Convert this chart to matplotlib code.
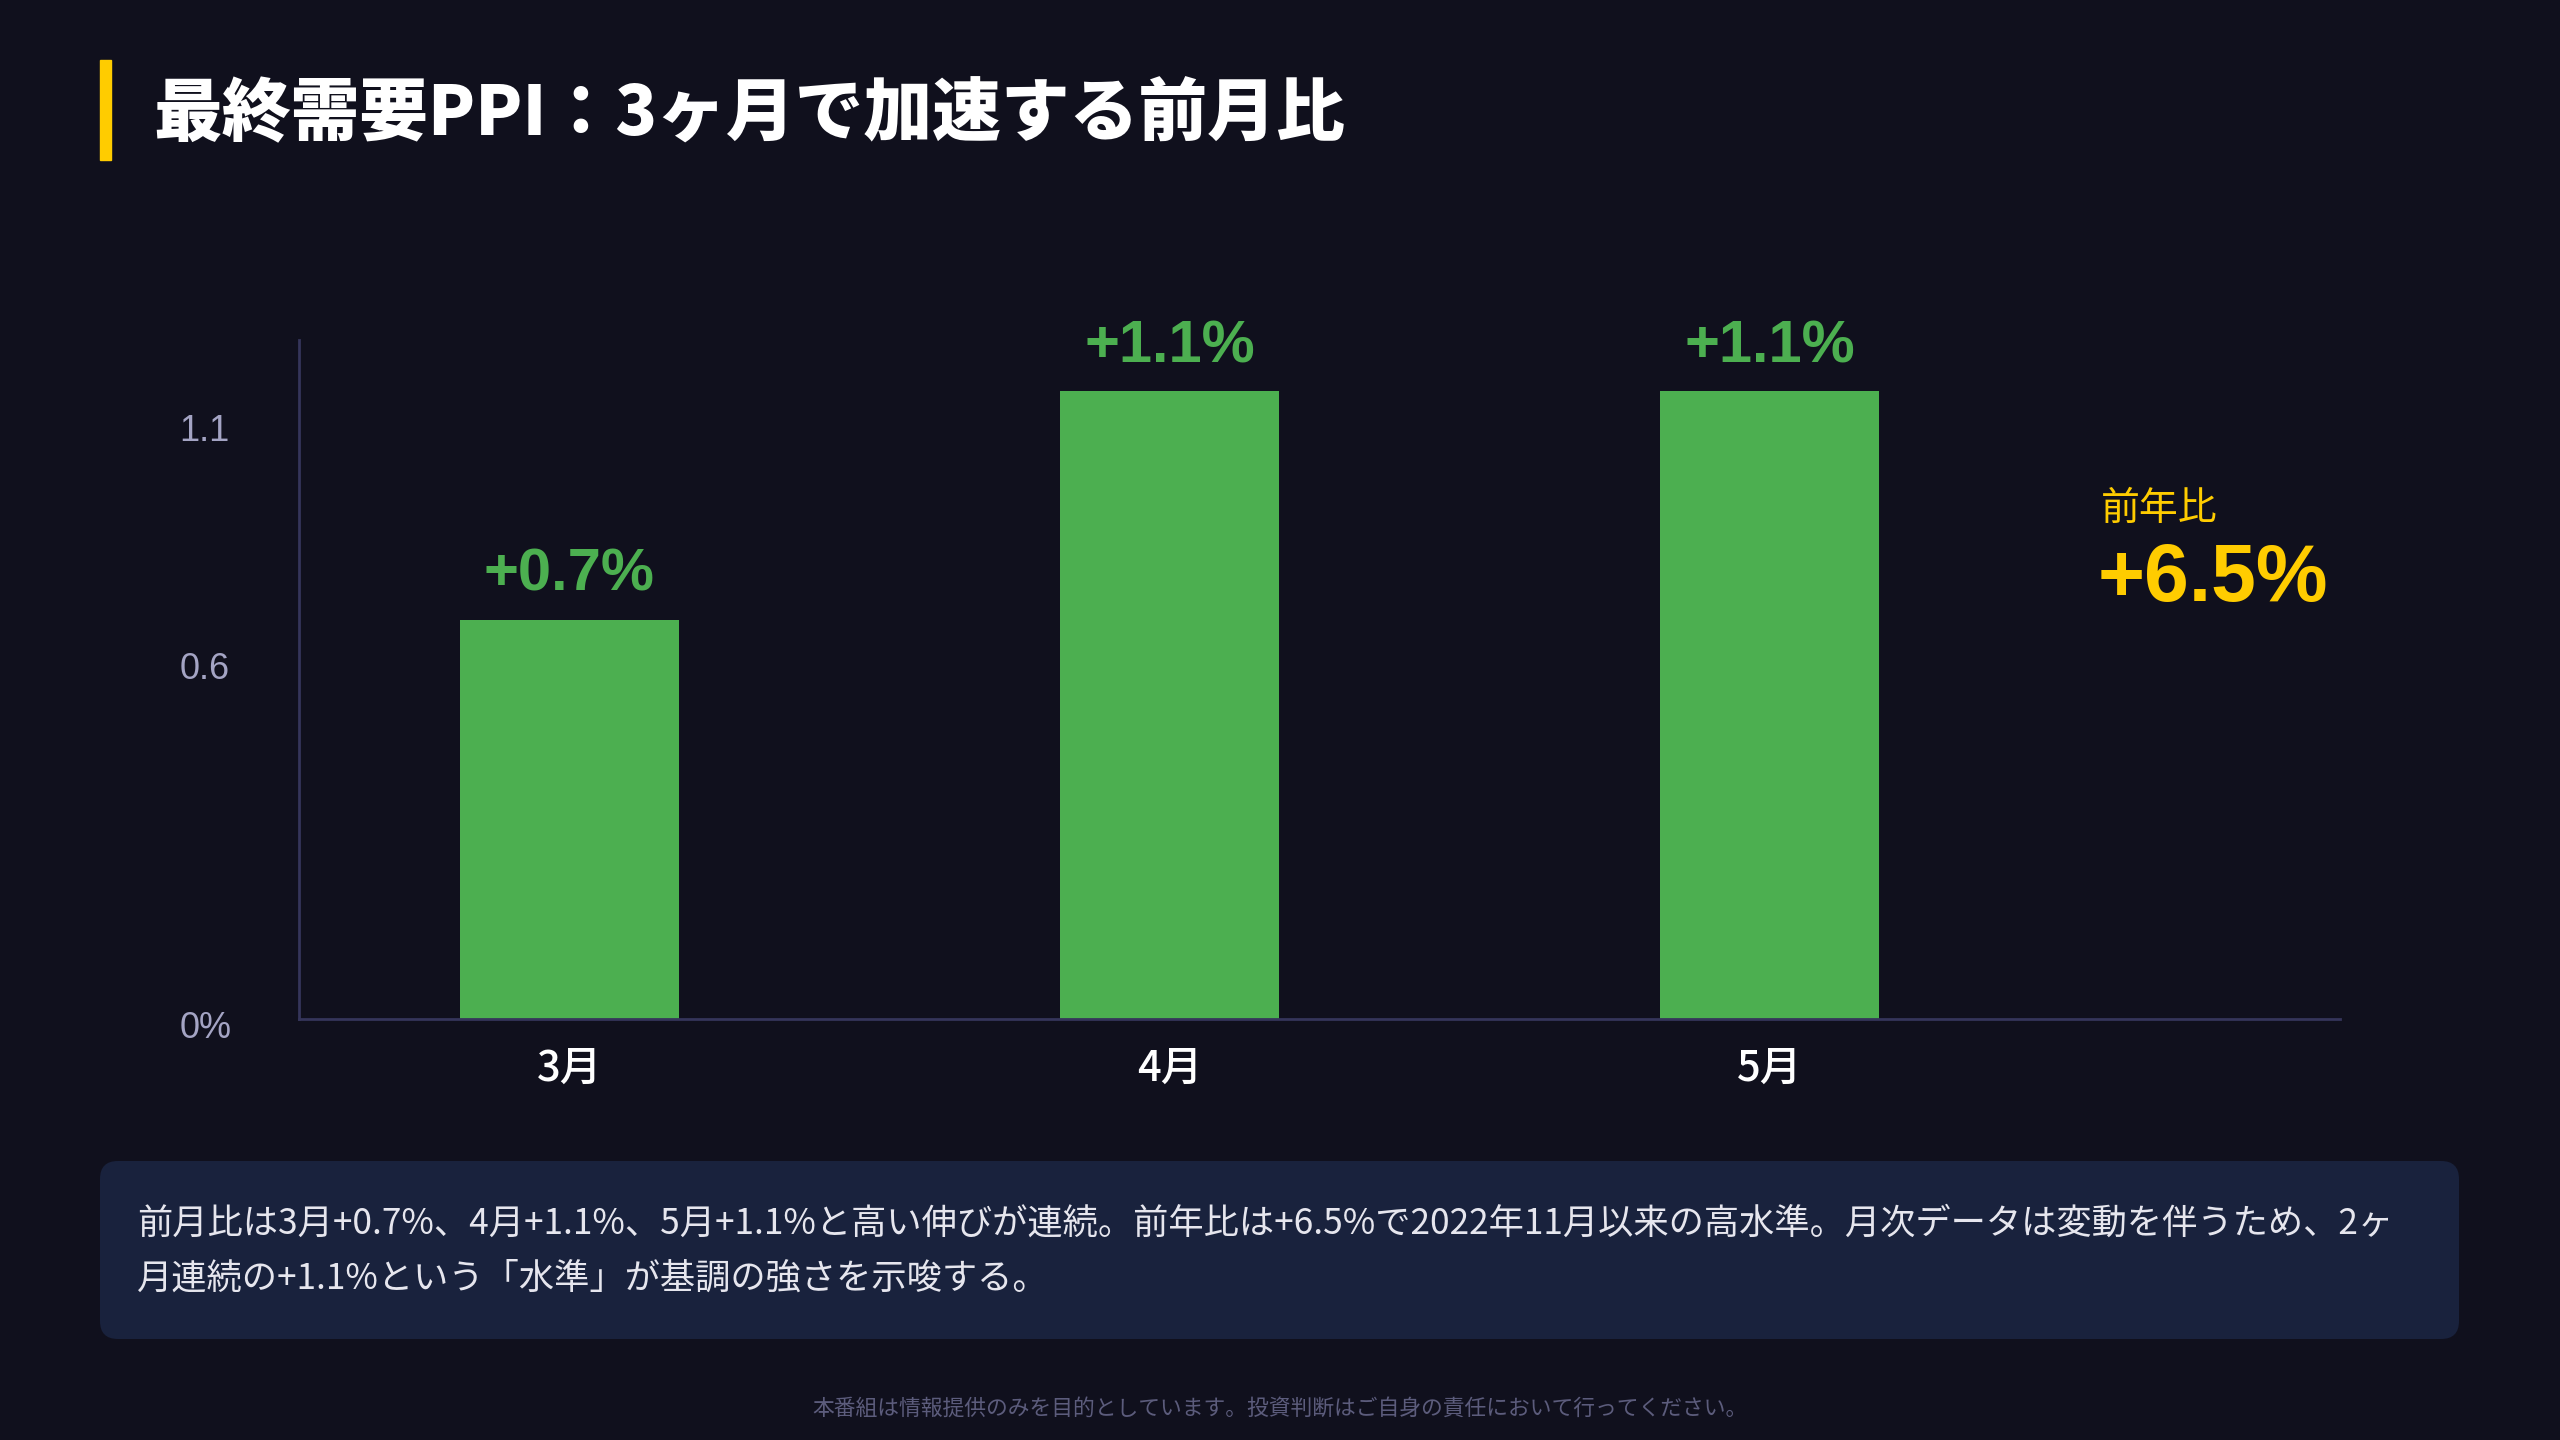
import matplotlib
matplotlib.use("Agg")
import matplotlib.pyplot as plt
import matplotlib.transforms as mtransforms
from matplotlib.patches import FancyBboxPatch, Rectangle

# data
months = ["3月", "4月", "5月"]
mom = [0.7, 1.1, 1.1]
bar_labels = ["+0.7%", "+1.1%", "+1.1%"]
ytick_vals = [0, 0.6, 1.1]
ytick_text = ["0%", "0.6", "1.1"]
yoy_label = "前年比"
yoy_value = "+6.5%"

title = "最終需要PPI：3ヶ月で加速する前月比"
note = ("前月比は3月+0.7%、4月+1.1%、5月+1.1%と高い伸びが連続。前年比は+6.5%で2022年11月以来の高水準。月次データは変動を伴うため、2ヶ\n"
        "月連続の+1.1%という「水準」が基調の強さを示唆する。")
footer = "本番組は情報提供のみを目的としています。投資判断はご自身の責任において行ってください。"

BG = "#10101d"
GREEN = "#4caf50"
YELLOW = "#ffcc00"
AXIS = "#35355a"
TICK = "#a4a4c4"
BOX = "#19223d"

JP = ["Noto Sans CJK JP", "DejaVu Sans"]
NUM = ["Liberation Sans", "Noto Sans CJK JP"]

plt.rcParams["font.family"] = JP

fig = plt.figure(figsize=(25.6, 14.4), dpi=100, facecolor=BG)

# title and accent bar
fig.patches.append(Rectangle((100 / 2560, 1 - 160 / 1440), 11 / 2560, 100 / 1440,
                             transform=fig.transFigure, color=YELLOW))
fig.text(153 / 2560, 1 - 115 / 1440, title, color="white", fontsize=49.5,
         fontweight="heavy", va="center", ha="left")

ax = fig.add_axes([299 / 2560, 1 - 1019 / 1440, (2340 - 299) / 2560, (1019 - 340) / 1440])
ax.set_facecolor(BG)

x = list(range(len(months)))
bars = ax.bar(x, mom, width=0.365, color=GREEN, zorder=2)
ax.set_xlim(-0.45, 2.95)
ax.set_ylim(0, 1.19)

for rect, lab in zip(bars, bar_labels):
    ax.annotate(lab, (rect.get_x() + rect.get_width() / 2, rect.get_height()),
                xytext=(0, 12), textcoords="offset points", ha="center", va="bottom",
                color=GREEN, fontsize=43, fontweight="bold", family=NUM)

for s in ["top", "right"]:
    ax.spines[s].set_visible(False)
for s in ["left", "bottom"]:
    ax.spines[s].set_color(AXIS)
    ax.spines[s].set_linewidth(2)

ax.set_xticks(x)
ax.set_xticklabels(months, color="white", fontsize=30, fontweight="medium")
ax.tick_params(axis="x", length=0, pad=20)

ax.set_yticks(ytick_vals)
ax.set_yticklabels(ytick_text, color=TICK, fontsize=26, family=NUM)
ax.tick_params(axis="y", length=0, pad=86)
y_shift = [-4, 8, -26]
for lab, dy in zip(ax.get_yticklabels(), y_shift):
    lab.set_horizontalalignment("left")
    lab.set_transform(lab.get_transform() + mtransforms.ScaledTranslation(0, dy / 72, fig.dpi_scale_trans))

# year-over-year callout
fig.text(2101 / 2560, 1 - 509 / 1440, yoy_label, color=YELLOW, fontsize=28,
         va="center", ha="left")
fig.text(2098 / 2560, 1 - 580 / 1440, yoy_value, color=YELLOW, fontsize=58,
         fontweight="bold", va="center", ha="left", family=NUM)

# note box
box = FancyBboxPatch((100 / 2560, 1 - 1339 / 1440), (2459 - 100) / 2560, (1339 - 1161) / 1440,
                     boxstyle="round,pad=0,rounding_size=0.007", transform=fig.transFigure,
                     facecolor=BOX, edgecolor="none", mutation_aspect=2560 / 1440)
fig.patches.append(box)
fig.text(137 / 2560, 1 - 1251 / 1440, note, color="#e6e6ee", fontsize=25.4,
         va="center", ha="left", linespacing=1.66)

fig.text(0.5, 1 - 1409 / 1440, footer, color="#5c5c7c", fontsize=15.7, va="center", ha="center")

fig.savefig("out.png", dpi=100, facecolor=BG)
